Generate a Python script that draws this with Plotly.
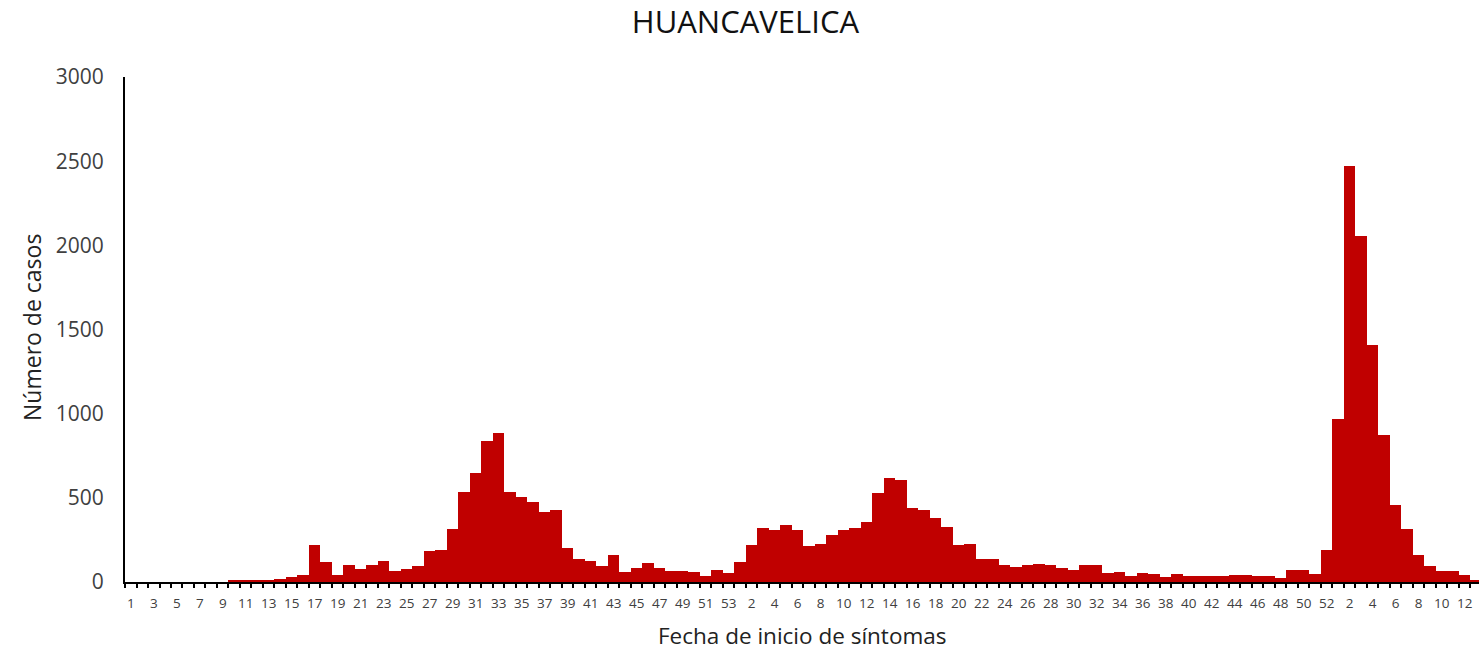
import plotly.graph_objects as go

# Weekly cases by epidemiological week (2020: weeks 1-53, 2021: weeks 1-52, 2022: weeks 1-13)
weeks_2020 = list(range(1, 54))
cases_2020 = [0, 0, 0, 0, 0, 0, 0, 0, 0, 10, 11, 11, 12, 20, 28, 44, 218, 119, 44, 103,
              79, 103, 127, 65, 79, 96, 185, 193, 316, 535, 650, 836, 887, 535, 505, 477,
              418, 425, 204, 135, 127, 97, 159, 58, 81, 111, 81, 65, 63, 58, 36, 73, 51]
weeks_2021 = list(range(1, 53))
cases_2021 = [119, 218, 319, 311, 340, 311, 214, 228, 281, 311, 319, 356, 531, 616, 608,
              441, 425, 380, 327, 220, 228, 135, 135, 99, 89, 99, 107, 99, 81, 73, 99, 99,
              51, 59, 36, 53, 46, 28, 46, 36, 36, 36, 38, 44, 44, 36, 36, 26, 73, 73, 50, 188]
weeks_2022 = list(range(1, 14))
cases_2022 = [967, 2473, 2054, 1406, 875, 456, 313, 163, 97, 65, 65, 42, 12]

week_labels = [str(w) for w in weeks_2020 + weeks_2021 + weeks_2022]
cases = cases_2020 + cases_2021 + cases_2022
positions = list(range(len(cases)))

y_ticks = [0, 500, 1000, 1500, 2000, 2500, 3000]

fig = go.Figure(go.Bar(
    x=positions,
    y=cases,
    marker=dict(color="#C00000", line=dict(width=0)),
    hovertext=week_labels,
))

label_pos = positions[::2]
label_txt = week_labels[::2]

fig.update_layout(
    width=1479, height=650,
    margin=dict(l=125, r=0, t=77, b=68),
    paper_bgcolor="white", plot_bgcolor="white",
    bargap=0,
    showlegend=False,
    font=dict(family="Open Sans", color="#404040"),
    title=dict(text="HUANCAVELICA", x=0.504, xanchor="center", xref="container",
               y=1 - 22 / 650, yanchor="middle", yref="container",
               font=dict(size=31, color="#111111", family="Open Sans")),
    xaxis=dict(
        range=[-0.5, 117.25],
        tickmode="array", tickvals=label_pos, ticktext=label_txt,
        ticks="", tickfont=dict(size=13.5, color="#404040"),
        ticklabelstandoff=8,
        showline=True, linecolor="black", linewidth=2,
        showgrid=False, zeroline=False,
        minor=dict(tickmode="array", tickvals=[p - 0.5 for p in positions] + [positions[-1] + 0.5],
                   ticks="outside", ticklen=4, tickwidth=2, tickcolor="black", showgrid=False),
    ),
    yaxis=dict(
        range=[0, 3000],
        tickmode="array", tickvals=y_ticks, ticktext=[str(v) for v in y_ticks],
        ticks="", tickfont=dict(size=21, color="#404040"),
        ticklabelstandoff=15,
        showline=True, linecolor="black", linewidth=2,
        showgrid=False, zeroline=False,
    ),
    annotations=[
        dict(text="Fecha de inicio de síntomas", xref="paper", yref="paper",
             x=0.5, y=(582 - 635) / 505, xanchor="center", yanchor="middle",
             showarrow=False, font=dict(size=22.5, color="#222222")),
        dict(text="Número de casos", xref="paper", yref="paper",
             x=(32 - 125) / 1354, y=(582 - 328) / 505, xanchor="center", yanchor="middle",
             textangle=-90, showarrow=False, font=dict(size=23, color="#222222")),
    ],
)

fig.write_html("out.html", config={"displayModeBar": False},
               post_script="document.body.style.margin='0';")
